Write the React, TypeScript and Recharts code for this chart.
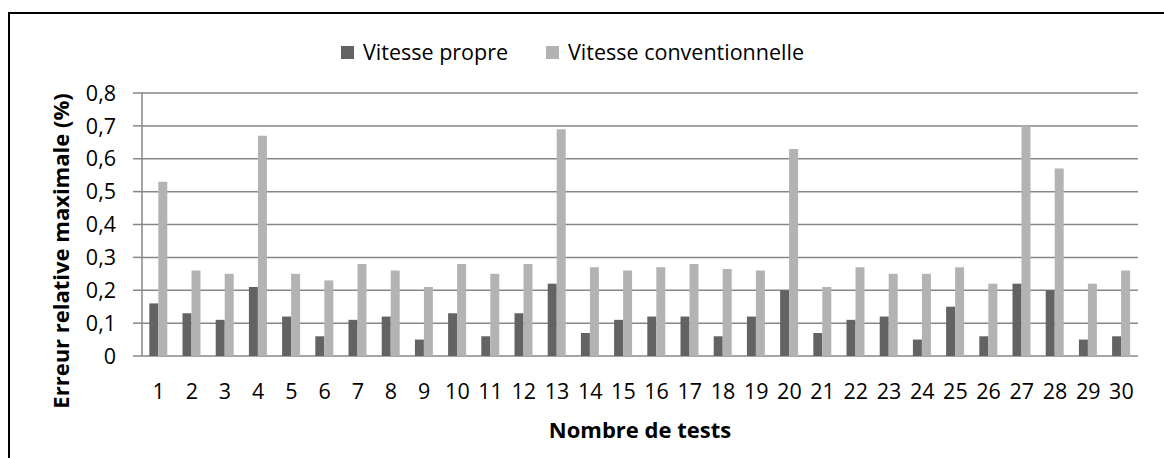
import { Bar, BarChart, CartesianGrid, Label, Legend, XAxis, YAxis } from "recharts";

const tests = [
  "1", "2", "3", "4", "5", "6", "7", "8", "9", "10",
  "11", "12", "13", "14", "15", "16", "17", "18", "19", "20",
  "21", "22", "23", "24", "25", "26", "27", "28", "29", "30",
];

const vitessePropre = [
  0.16, 0.13, 0.11, 0.21, 0.12, 0.06, 0.11, 0.12, 0.05, 0.13,
  0.06, 0.13, 0.22, 0.07, 0.11, 0.12, 0.12, 0.06, 0.12, 0.2,
  0.07, 0.11, 0.12, 0.05, 0.15, 0.06, 0.22, 0.2, 0.05, 0.06,
];

const vitesseConventionnelle = [
  0.53, 0.26, 0.25, 0.67, 0.25, 0.23, 0.28, 0.26, 0.21, 0.28,
  0.25, 0.28, 0.69, 0.27, 0.26, 0.27, 0.28, 0.265, 0.26, 0.63,
  0.21, 0.27, 0.25, 0.25, 0.27, 0.22, 0.7, 0.57, 0.22, 0.26,
];

const yTicks = [0, 0.1, 0.2, 0.3, 0.4, 0.5, 0.6, 0.7, 0.8];

// category boundaries, used only for the tick marks between the groups
const categoryEdges = [
  0, 1, 2, 3, 4, 5, 6, 7, 8, 9, 10, 11, 12, 13, 14, 15,
  16, 17, 18, 19, 20, 21, 22, 23, 24, 25, 26, 27, 28, 29, 30,
];

const seriesOrder = ["propre", "conventionnelle"];

const data = tests.map((test, i) => ({
  test,
  propre: vitessePropre[i],
  conventionnelle: vitesseConventionnelle[i],
}));

const font = "'Open Sans', sans-serif";
const fontSize = 21.5;
const titleSize = 22;
const axisGray = "#878787";

function LegendContent(props: any) {
  const items = [...(props.payload || [])].sort(
    (a: any, b: any) => seriesOrder.indexOf(a.dataKey) - seriesOrder.indexOf(b.dataKey)
  );
  return (
    <div style={{ display: "flex", alignItems: "center", fontFamily: font, fontSize, color: "#000", lineHeight: "28px" }}>
      {items.map((item: any, i: number) => (
        <span key={i} style={{ display: "flex", alignItems: "center", marginRight: 38 }}>
          <span style={{ width: 13, height: 13, background: item.color, marginRight: 9, display: "inline-block" }} />
          {item.value}
        </span>
      ))}
    </div>
  );
}

export default function App() {
  return (
    <div style={{ position: "fixed", left: 0, top: 0, width: 1164, height: 458, overflow: "hidden", background: "#fff" }}>
      <style>{"html, body { overflow: hidden; }"}</style>
      <div
        style={{
          position: "absolute",
          left: 8,
          top: 12,
          width: 1156,
          height: 446,
          borderTop: "2px solid #000",
          borderLeft: "2px solid #000",
          boxSizing: "border-box",
        }}
      />
      <div style={{ position: "absolute", left: 8, top: 8 }}>
        <BarChart
          width={1156}
          height={450}
          data={data}
          margin={{ top: 85, right: 26, left: 0, bottom: 0 }}
          barCategoryGap="22%"
          barGap={0}
        >
          <CartesianGrid vertical={false} stroke={axisGray} strokeWidth={1.5} />
          <XAxis
            xAxisId="edge"
            type="number"
            domain={[0, 30]}
            allowDataOverflow
            ticks={categoryEdges}
            tick={false}
            tickSize={8}
            height={0}
            axisLine={{ stroke: axisGray, strokeWidth: 1.5 }}
            tickLine={{ stroke: axisGray, strokeWidth: 1.5 }}
          />
          <XAxis
            dataKey="test"
            height={102}
            axisLine={false}
            tickLine={false}
            tickSize={0}
            tickMargin={28}
            interval={0}
            tick={{ fill: "#000", fontSize, fontFamily: font }}
          >
            <Label
              value="Nombre de tests"
              position="insideBottom"
              offset={20}
              style={{ fontFamily: font, fontSize: titleSize, fontWeight: 700, fill: "#000" }}
            />
          </XAxis>
          <YAxis
            width={134}
            domain={[0, 0.8]}
            ticks={yTicks}
            tickSize={9}
            tickMargin={17}
            tickFormatter={(v: number) => String(v).replace(".", ",")}
            tick={{ fill: "#000", fontSize, fontFamily: font }}
            axisLine={{ stroke: axisGray, strokeWidth: 1.5 }}
            tickLine={{ stroke: axisGray, strokeWidth: 1.5 }}
          >
            <Label
              content={() => (
                <text
                  x={52}
                  y={243}
                  transform="rotate(-90 52 243)"
                  textAnchor="middle"
                  dominantBaseline="central"
                  style={{ fontFamily: font, fontSize: titleSize, fontWeight: 700, fill: "#000" }}
                >
                  Erreur relative maximale (%)
                </text>
              )}
            />
          </YAxis>
          <Legend
            layout="horizontal"
            verticalAlign="middle"
            align="center"
            content={LegendContent}
            wrapperStyle={{ position: "absolute", left: 333, top: 30, width: "auto" }}
          />
          <Bar dataKey="propre" name="Vitesse propre" fill="#636363" isAnimationActive={false} />
          <Bar dataKey="conventionnelle" name="Vitesse conventionnelle" fill="#b3b3b3" isAnimationActive={false} />
        </BarChart>
      </div>
    </div>
  );
}
